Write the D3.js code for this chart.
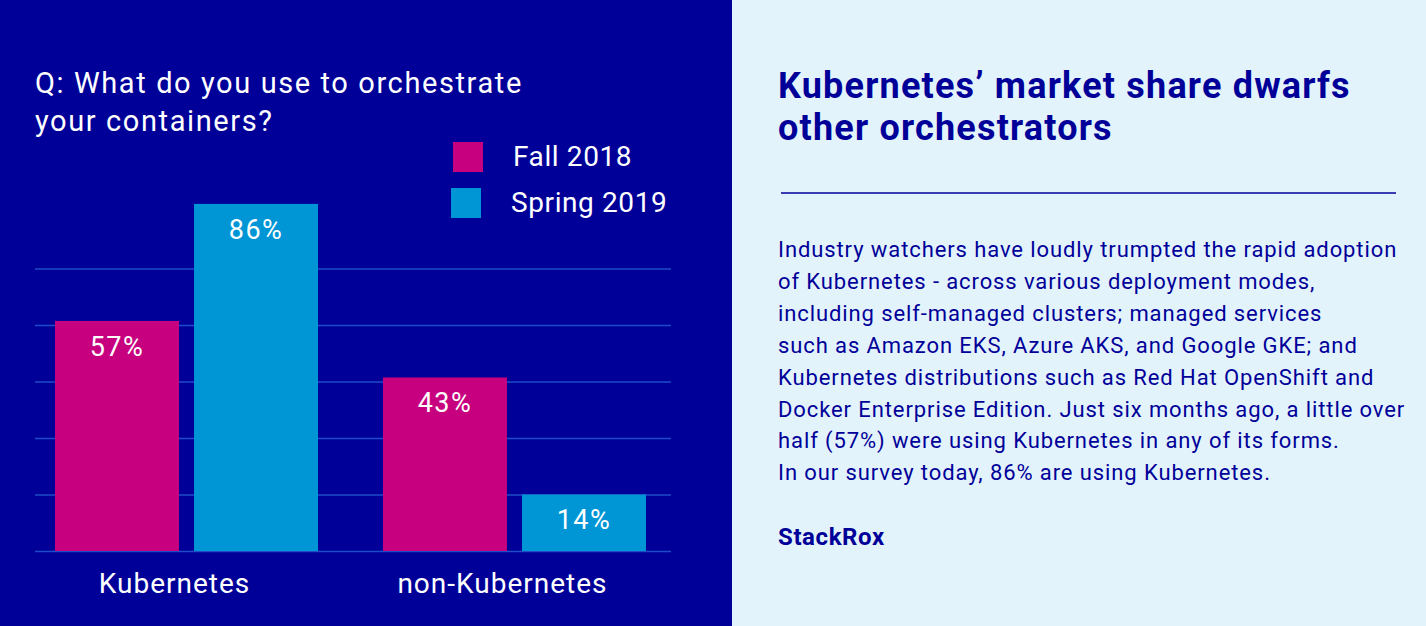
<!DOCTYPE html>
<html>
<head>
<meta charset="utf-8">
<script src="https://cdn.jsdelivr.net/npm/d3@7"></script>
<style>
  html, body { margin: 0; padding: 0; background: #E3F3FB; }
  svg { display: block; font-family: Roboto, "Open Sans", sans-serif; }
</style>
</head>
<body>
<svg id="chart" width="1426" height="626"></svg>
<script>
// ---- data ----
const categories = ["Kubernetes", "non-Kubernetes"];
const seriesNames = ["Fall 2018", "Spring 2019"];
const fall2018 = [57, 43];
const spring2019 = [86, 14];
const gridTicks = [0, 14, 28, 42, 56, 70];
const questionLines = ["Q: What do you use to orchestrate", "your containers?"];
const headlineLines = ["Kubernetes\u2019 market share dwarfs", "other orchestrators"];
const bodyLines = [
  "Industry watchers have loudly trumpted the rapid adoption",
  "of Kubernetes - across various deployment modes,",
  "including self-managed clusters; managed services",
  "such as Amazon EKS, Azure AKS, and Google GKE; and",
  "Kubernetes distributions such as Red Hat OpenShift and",
  "Docker Enterprise Edition. Just six months ago, a little over",
  "half (57%) were using Kubernetes in any of its forms.",
  "In our survey today, 86% are using Kubernetes."
];
const sourceLabel = "StackRox";

// ---- styles ----
const colors = { "Fall 2018": "#C6007E", "Spring 2019": "#0095D5" };
const darkBlue = "#000099";
const lightBg = "#E3F3FB";
const gridColor = "#1E4CC8";

const svg = d3.select("#chart");
const W = 1426, H = 626, splitX = 732;

// panels
svg.append("rect").attr("x", 0).attr("y", 0).attr("width", splitX).attr("height", H).attr("fill", darkBlue);
svg.append("rect").attr("x", splitX).attr("y", 0).attr("width", W - splitX).attr("height", H).attr("fill", lightBg);

// ---- scales ----
const rows = categories.map((c, i) => ({ category: c, values: [
  { series: seriesNames[0], value: fall2018[i] },
  { series: seriesNames[1], value: spring2019[i] }
]}));

const x0 = d3.scaleBand().domain(categories).range([35, 666]).paddingInner(0.198).paddingOuter(0.061);
const x1 = d3.scaleBand().domain(seriesNames).range([0, x0.bandwidth()]).paddingInner(0.108);
const y = d3.scaleLinear().domain([0, 100]).range([551, 147.4]);

// gridlines
const grid = svg.append("g").attr("transform", "translate(35,0)")
  .call(d3.axisLeft(y).tickValues(gridTicks).tickSize(-636).tickFormat(""));
grid.select(".domain").remove();
grid.selectAll(".tick line").attr("stroke", gridColor).attr("stroke-width", 1.5);

// bars
const groups = svg.append("g").selectAll("g").data(rows).join("g")
  .attr("transform", d => `translate(${x0(d.category)},0)`);

groups.selectAll("rect").data(d => d.values).join("rect")
  .attr("x", d => x1(d.series))
  .attr("y", d => y(d.value))
  .attr("width", x1.bandwidth())
  .attr("height", d => y(0) - y(d.value))
  .attr("fill", d => colors[d.series]);

groups.selectAll("text").data(d => d.values).join("text")
  .attr("x", d => x1(d.series) + x1.bandwidth() / 2)
  .attr("y", d => y(d.value) + 35)
  .attr("text-anchor", "middle")
  .attr("fill", "#FFFFFF")
  .attr("font-size", 27)
  .attr("letter-spacing", 1.5)
  .text(d => d.value + "%");

// x axis labels
const xAxis = svg.append("g").attr("transform", "translate(-12,551)")
  .call(d3.axisBottom(x0).tickSize(0).tickPadding(22));
xAxis.select(".domain").remove();
xAxis.selectAll("text")
  .attr("fill", "#FFFFFF")
  .attr("font-size", 28)
  .attr("font-family", "Roboto, sans-serif")
  .attr("letter-spacing", 1);

// question title
svg.append("text")
  .attr("x", 35).attr("y", 93)
  .attr("fill", "#FFFFFF").attr("font-size", 29).attr("letter-spacing", 1.6)
  .selectAll("tspan").data(questionLines).join("tspan")
  .attr("x", 35).attr("dy", (d, i) => i === 0 ? 0 : 38)
  .text(d => d);

// legend
const legend = svg.append("g").selectAll("g").data(seriesNames).join("g")
  .attr("transform", (d, i) => `translate(${453 - i * 2},${142 + i * 46})`);
legend.append("rect").attr("width", 30).attr("height", 30).attr("fill", d => colors[d]);
legend.append("text").attr("x", 60).attr("y", 24)
  .attr("fill", "#FFFFFF").attr("font-size", 28).attr("letter-spacing", 0.6)
  .text(d => d);

// right panel headline
svg.append("text")
  .attr("x", 778).attr("y", 98)
  .attr("fill", darkBlue).attr("font-size", 36).attr("font-weight", 700).attr("letter-spacing", 1.2)
  .selectAll("tspan").data(headlineLines).join("tspan")
  .attr("x", 778).attr("dy", (d, i) => i === 0 ? 0 : 42)
  .text(d => d);

svg.append("line")
  .attr("x1", 781).attr("x2", 1396).attr("y1", 193).attr("y2", 193)
  .attr("stroke", darkBlue).attr("stroke-width", 1.5);

svg.append("text")
  .attr("x", 778).attr("y", 257)
  .attr("fill", darkBlue).attr("font-size", 22).attr("letter-spacing", 0.9)
  .selectAll("tspan").data(bodyLines).join("tspan")
  .attr("x", 778).attr("dy", (d, i) => i === 0 ? 0 : 31.9)
  .text(d => d);

svg.append("text")
  .attr("x", 778).attr("y", 545)
  .attr("fill", darkBlue).attr("font-size", 24).attr("font-weight", 700).attr("letter-spacing", 0.6)
  .text(sourceLabel);
</script>
</body>
</html>
